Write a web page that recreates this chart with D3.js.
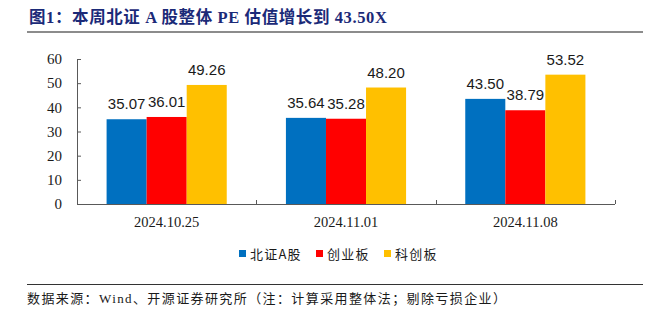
<!DOCTYPE html>
<html><head><meta charset="utf-8">
<script src="https://cdn.jsdelivr.net/npm/d3@7"></script>
<style>
html,body{margin:0;padding:0;background:#fff;}
svg{display:block;}
</style></head>
<body>
<svg id="chart" width="651" height="322"></svg>
<script>
const categories = ["2024.10.25", "2024.11.01", "2024.11.08"];
const seriesNames = ["北证A股", "创业板", "科创板"];
const seriesBJ = [35.07, 35.64, 43.50];
const seriesCYB = [36.01, 35.28, 38.79];
const seriesKCB = [49.26, 48.20, 53.52];
const yTicks = [0, 10, 20, 30, 40, 50, 60];
const colors = ["#0070C0", "#FF0000", "#FFC000"];
const titleText = "图1：本周北证 A 股整体 PE 估值增长到 43.50X";
const sourceText = "数据来源：Wind、开源证券研究所（注：计算采用整体法；剔除亏损企业）";

(function () {
const seriesValues = [seriesBJ, seriesCYB, seriesKCB];
const svg = d3.select("#chart");

const pLeft = 77, pRight = 615, pTop = 59, pBottom = 204;

const x = d3.scaleBand().domain(categories).range([pLeft, pRight]).paddingInner(0.33).paddingOuter(0.165);
const xs = d3.scaleBand().domain(seriesNames).range([0, x.bandwidth()]);
const y = d3.scaleLinear().domain([0, 60]).range([pBottom, pTop]);

// title
svg.append("text").attr("x", 29).attr("y", 23)
  .attr("font-family", "'Liberation Serif','Noto Sans CJK SC',serif")
  .attr("font-weight", "bold").attr("font-size", 16.5).attr("letter-spacing", 0.6)
  .attr("fill", "#1B2A78").text(titleText);
svg.append("line").attr("x1", 27).attr("x2", 643).attr("y1", 32).attr("y2", 32)
  .attr("stroke", "#8c8c8c").attr("stroke-width", 2);

// bars
const g = svg.append("g");
categories.forEach((c, i) => {
  seriesNames.forEach((s, j) => {
    const v = seriesValues[j][i];
    g.append("rect")
      .attr("x", x(c) + xs(s)).attr("width", xs.bandwidth())
      .attr("y", y(v)).attr("height", y(0) - y(v))
      .attr("fill", colors[j]);
    g.append("text")
      .attr("x", x(c) + xs(s) + xs.bandwidth() / 2)
      .attr("y", y(v) - 10)
      .attr("text-anchor", "middle")
      .attr("font-family", "'Liberation Sans',Arial,sans-serif")
      .attr("font-size", 15).attr("fill", "#1a1a1a")
      .text(v.toFixed(2));
  });
});

// y axis
const yAxis = d3.axisLeft(y).tickValues(yTicks).tickSize(-4).tickPadding(15);
const ya = svg.append("g").attr("transform", `translate(${pLeft},0)`).call(yAxis);
ya.select(".domain").attr("stroke", "#595959").attr("d", `M0.5,${pTop}V${pBottom}`);
ya.selectAll(".tick line").attr("stroke", "#595959");
ya.selectAll(".tick text").attr("font-family", "'Liberation Serif','Times New Roman',serif")
  .attr("font-size", 15).attr("fill", "#1a1a1a");

// x axis
const xAxis = d3.axisBottom(x).tickSize(0).tickPadding(13);
const xa = svg.append("g").attr("transform", `translate(0,${pBottom})`).call(xAxis);
xa.select(".domain").attr("stroke", "#595959").attr("d", `M${pLeft},0.5H${pRight}`);
xa.selectAll(".tick text").attr("font-family", "'Liberation Serif','Times New Roman',serif")
  .attr("font-size", 14.5).attr("fill", "#1a1a1a");
// category boundary ticks
const boundaries = categories.map(c => x(c) - x.step() * x.paddingInner() / 2 + x.step());
svg.append("g").selectAll("line").data(boundaries).join("line")
  .attr("x1", d => Math.round(d) + 0.5).attr("x2", d => Math.round(d) + 0.5)
  .attr("y1", pBottom).attr("y2", pBottom - 4)
  .attr("stroke", "#595959");

// legend
const legendX = [239, 316, 384];
const lg = svg.append("g");
seriesNames.forEach((s, j) => {
  lg.append("rect").attr("x", legendX[j]).attr("y", 250).attr("width", 7).attr("height", 7).attr("fill", colors[j]);
  lg.append("text").attr("x", legendX[j] + 11).attr("y", 258.5)
    .attr("font-family", "'Noto Sans CJK SC','Liberation Serif',serif")
    .attr("font-size", 13).attr("letter-spacing", 1.2).attr("fill", "#1a1a1a").text(s);
});

// footer
svg.append("line").attr("x1", 27).attr("x2", 643).attr("y1", 284.5).attr("y2", 284.5)
  .attr("stroke", "#333").attr("stroke-width", 1);
svg.append("text").attr("x", 27).attr("y", 303)
  .attr("font-family", "'Liberation Serif','Noto Sans CJK SC',serif")
  .attr("font-size", 13).attr("letter-spacing", 1.4).attr("fill", "#1a1a1a").text(sourceText);
})();
</script>
</body></html>
